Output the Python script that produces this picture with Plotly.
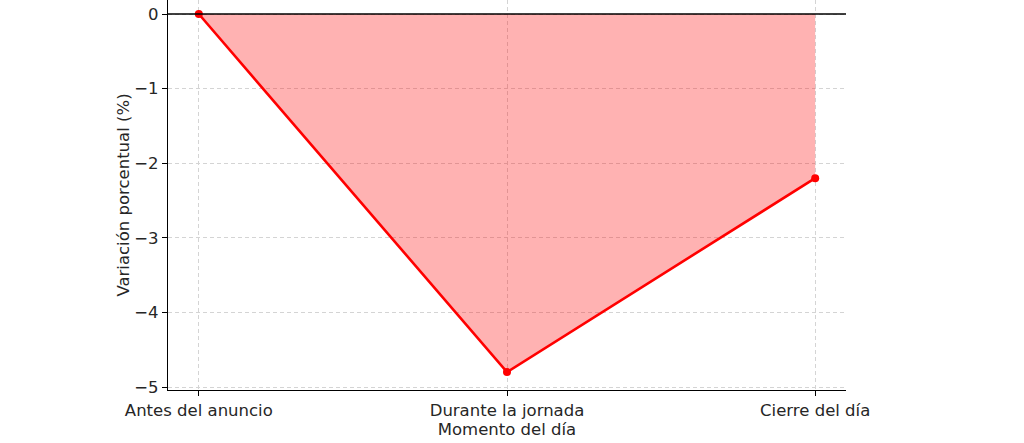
import plotly.graph_objects as go

categories = ["Antes del anuncio", "Durante la jornada", "Cierre del día"]
values = [0.0, -4.8, -2.2]
y_ticks = [0, -1, -2, -3, -4, -5]
y_tick_labels = ["0", "−1", "−2", "−3", "−4", "−5"]

x_idx = list(range(len(categories)))
font_family = "DejaVu Sans"
text_color = "#262626"

fig = go.Figure()
fig.add_trace(go.Scatter(
    x=x_idx, y=values, mode="none", fill="tozeroy",
    fillcolor="rgba(255,0,0,0.3)", hoverinfo="skip", showlegend=False,
))
fig.add_trace(go.Scatter(
    x=x_idx, y=values, mode="lines+markers",
    line=dict(color="#ff0000", width=2.6),
    marker=dict(color="#ff0000", size=8),
    showlegend=False,
))
fig.add_shape(type="line", xref="paper", yref="y", x0=0, x1=1, y0=0, y1=0,
              line=dict(color="black", width=1.4))

grid = dict(showgrid=True, gridcolor="#d4d4d4", griddash="4px,3px", gridwidth=0.7)

fig.update_layout(
    width=1024, height=443,
    margin=dict(l=168, r=178, t=0, b=53, autoexpand=False),
    paper_bgcolor="white", plot_bgcolor="white",
    font=dict(family=font_family, size=16.5, color=text_color),
    xaxis=dict(
        range=[-0.1, 2.1], tickmode="array", tickvals=x_idx, ticktext=categories,
        showline=True, linecolor="black", linewidth=1.2,
        ticks="outside", ticklen=5, tickcolor="black", zeroline=False,
        automargin=False,
        title=dict(text="Momento del día", standoff=2, font=dict(size=16.5)),
        **grid,
    ),
    yaxis=dict(
        range=[-5.04, 0.188], tickmode="array", tickvals=y_ticks, ticktext=y_tick_labels,
        showline=True, linecolor="black", linewidth=1.2,
        ticks="outside", ticklen=5, tickcolor="black", zeroline=False,
        ticklabeloverflow="allow", automargin=False,
        title=dict(text="Variación porcentual (%)", standoff=0, font=dict(size=16.5)),
        **grid,
    ),
)

fig.write_html(
    "out.html",
    config={"displayModeBar": False},
    post_script="document.body.style.margin='0';document.body.style.overflow='hidden';",
)
